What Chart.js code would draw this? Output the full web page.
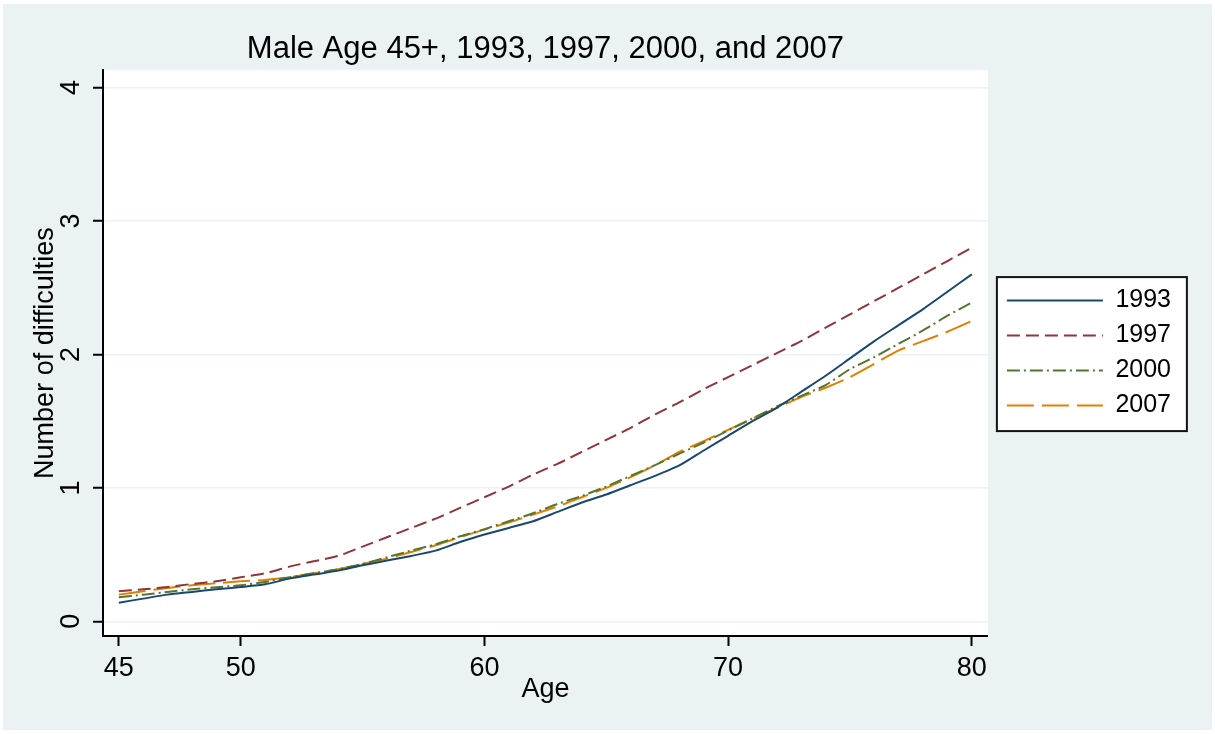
<!DOCTYPE html>
<html>
<head>
<meta charset="utf-8">
<title>Male Age 45+ difficulties</title>
<script src="https://cdn.jsdelivr.net/npm/chart.js@4/dist/chart.umd.min.js"></script>
<style>
  html, body { margin: 0; padding: 0; background: #ffffff; }
  #wrap { width: 1215px; height: 734px; }
</style>
</head>
<body>
<div id="wrap"><canvas id="c" width="1215" height="734"></canvas></div>
<script>
// Ages on the horizontal axis
const ages = [45,46,47,48,49,50,51,52,53,54,55,56,57,58,59,60,61,62,63,64,65,66,67,68,69,70,71,72,73,74,75,76,77,78,79,80];

// Mean number of difficulties by age, one list per survey year
const y1993 = [0.14,0.17,0.20,0.22,0.24,0.257,0.277,0.32,0.35,0.38,0.42,0.455,0.49,0.53,0.594,0.65,0.70,0.75,0.82,0.89,0.95,1.02,1.09,1.168,1.28,1.39,1.50,1.60,1.72,1.84,1.97,2.10,2.22,2.34,2.47,2.60];
const y1997 = [0.225,0.24,0.257,0.28,0.30,0.33,0.36,0.41,0.45,0.49,0.56,0.63,0.70,0.77,0.85,0.93,1.01,1.10,1.18,1.27,1.36,1.45,1.55,1.64,1.74,1.83,1.92,2.01,2.10,2.20,2.30,2.40,2.50,2.60,2.70,2.80];
const y2000 = [0.18,0.20,0.22,0.24,0.255,0.27,0.295,0.33,0.36,0.39,0.43,0.48,0.53,0.577,0.637,0.69,0.75,0.81,0.88,0.94,1.01,1.09,1.17,1.256,1.34,1.43,1.52,1.61,1.69,1.77,1.89,1.98,2.08,2.18,2.29,2.39];
const y2007 = [0.20,0.225,0.25,0.27,0.285,0.30,0.31,0.33,0.36,0.39,0.43,0.47,0.52,0.57,0.63,0.687,0.74,0.80,0.86,0.93,1.00,1.08,1.17,1.27,1.35,1.435,1.52,1.60,1.68,1.75,1.83,1.93,2.03,2.10,2.17,2.25];

const seriesNames = ['1993', '1997', '2000', '2007'];
const xTickValues = [45, 50, 60, 70, 80];
const yTickValues = [0, 1, 2, 3, 4];

const FONT = '"Liberation Sans", Arial, Helvetica, sans-serif';
const BG = '#eaf2f3';

const toPoints = arr => arr.map((v, i) => ({ x: ages[i], y: v }));

const styles = [
  { color: '#1a476f', dash: [] },
  { color: '#90353b', dash: [13, 6] },
  { color: '#55752f', dash: [13, 4, 2, 4] },
  { color: '#e37e00', dash: [27, 8] }
];

const datasets = [y1993, y1997, y2000, y2007].map((arr, i) => ({
  label: seriesNames[i],
  data: toPoints(arr),
  borderColor: styles[i].color,
  backgroundColor: styles[i].color,
  borderDash: styles[i].dash,
  borderWidth: 2,
  pointRadius: 0,
  pointHoverRadius: 0,
  tension: 0.2,
  fill: false
}));

// Paints the framed backdrop, the white plot region and the legend box
const backdrop = {
  id: 'backdrop',
  beforeDraw(chart) {
    const { ctx, chartArea: a, legend } = chart;
    ctx.save();
    ctx.fillStyle = '#ffffff';
    ctx.fillRect(0, 0, chart.width, chart.height);
    ctx.fillStyle = BG;
    ctx.fillRect(3, 4, chart.width - 6, chart.height - 8);
    ctx.fillStyle = '#ffffff';
    ctx.fillRect(a.left, a.top, a.right - a.left, a.bottom - a.top);
    if (legend && legend.legendHitBoxes && legend.legendHitBoxes.length) {
      const hb = legend.legendHitBoxes;
      const top = hb[0].top - 11;
      const bottom = hb[hb.length - 1].top + hb[hb.length - 1].height + 13;
      const left = legend.left;
      const right = legend.left + 190;
      ctx.fillRect(left, top, right - left, bottom - top);
      ctx.strokeStyle = '#111111';
      ctx.lineWidth = 2;
      ctx.strokeRect(left, top, right - left, bottom - top);
    }
    ctx.restore();
  }
};

// Legend entries drawn as line samples carrying each series' dash pattern
function legendLabels(chart) {
  return Chart.defaults.plugins.legend.labels.generateLabels(chart).map(item => {
    const ds = chart.data.datasets[item.datasetIndex];
    return Object.assign(item, {
      strokeStyle: ds.borderColor,
      fillStyle: ds.borderColor,
      lineDash: ds.borderDash,
      lineWidth: 2,
      pointStyle: 'line'
    });
  });
}

new Chart(document.getElementById('c'), {
  type: 'line',
  data: { datasets },
  plugins: [backdrop],
  options: {
    responsive: false,
    animation: false,
    events: [],
    layout: { padding: { left: 4, top: 0, right: 34, bottom: 0 } },
    plugins: {
      title: {
        display: true,
        text: 'Male Age 45+, 1993, 1997, 2000, and 2007',
        fullSize: false,
        color: '#000000',
        font: { family: FONT, size: 31, weight: 'normal' },
        padding: { top: 31, bottom: 2 }
      },
      legend: {
        display: true,
        position: 'right',
        align: 'center',
        fullSize: false,
        labels: {
          usePointStyle: true,
          pointStyle: 'line',
          pointStyleWidth: 96,
          padding: 10,
          color: '#000000',
          font: { family: FONT, size: 25 },
          generateLabels: legendLabels
        }
      },
      tooltip: { enabled: false }
    },
    scales: {
      x: {
        type: 'linear',
        min: 44.35,
        max: 80.66,
        afterFit(s) { s.height = 98; },
        afterBuildTicks(s) { s.ticks = xTickValues.map(v => ({ value: v })); },
        grid: {
          drawOnChartArea: false,
          drawTicks: true,
          tickLength: 10,
          tickWidth: 2,
          tickColor: '#000000'
        },
        border: { display: true, color: '#000000', width: 2 },
        ticks: {
          color: '#000000',
          font: { family: FONT, size: 27 },
          padding: 6,
          maxRotation: 0,
          autoSkip: false
        },
        title: {
          display: true,
          text: 'Age',
          color: '#000000',
          font: { family: FONT, size: 27 },
          padding: { top: 0, bottom: 28 }
        }
      },
      y: {
        type: 'linear',
        min: -0.11,
        max: 4.13,
        afterFit(s) { s.width = 99; },
        afterBuildTicks(s) { s.ticks = yTickValues.map(v => ({ value: v })); },
        grid: {
          color: BG,
          lineWidth: 1.5,
          drawTicks: true,
          tickLength: 10,
          tickWidth: 2,
          tickColor: '#000000'
        },
        border: { display: true, color: '#000000', width: 2 },
        ticks: {
          color: '#000000',
          font: { family: FONT, size: 27 },
          minRotation: 90,
          maxRotation: 90,
          crossAlign: 'center',
          padding: 14
        },
        title: {
          display: true,
          text: 'Number of difficulties',
          color: '#000000',
          font: { family: FONT, size: 27 },
          padding: { top: 25, bottom: 0 }
        }
      },
      gap: {
        type: 'linear',
        position: 'right',
        display: true,
        afterFit(s) { s.width = 9; },
        grid: { display: false, drawTicks: false },
        border: { display: false },
        ticks: { display: false }
      }
    }
  }
});
</script>
</body>
</html>
